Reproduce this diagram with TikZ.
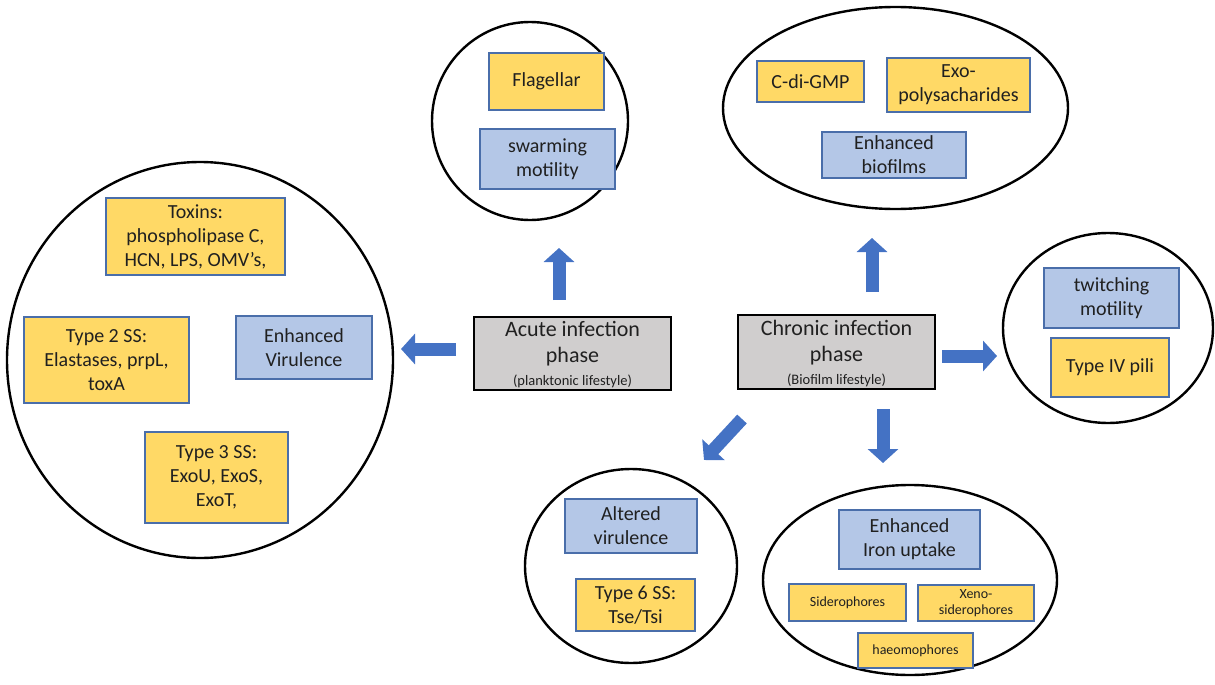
\documentclass[tikz,border=0pt]{standalone}
\usepackage{fontspec}
\setmainfont{Carlito}
\usetikzlibrary{shapes.geometric,arrows.meta}
\definecolor{yfill}{HTML}{FFD966}
\definecolor{bfill}{HTML}{B4C7E7}
\definecolor{bdraw}{HTML}{4A6EAA}
\definecolor{gfill}{HTML}{D0CECE}
\definecolor{arrblue}{HTML}{4472C4}
\definecolor{arrdark}{HTML}{3A62A8}
\definecolor{txt}{HTML}{202020}
\begin{document}
\begin{tikzpicture}[x=1pt,y=-1pt,
  oval/.style={ellipse,draw=black,line width=2.4pt,inner sep=0pt},
  ybox/.style={rectangle,draw=bdraw,fill=yfill,line width=1.3pt,inner sep=0pt,align=center,text=txt,font=\fontsize{20}{24}\selectfont},
  bbox/.style={rectangle,draw=bdraw,fill=bfill,line width=1.3pt,inner sep=0pt,align=center,text=txt,font=\fontsize{20}{24}\selectfont},
  sbox/.style={ybox,font=\fontsize{14}{16}\selectfont},
  phasebox/.style={rectangle,draw=black,fill=gfill,line width=2.6pt,inner sep=0pt,align=center,text=txt,font=\fontsize{22}{26}\selectfont,text depth=0pt},
  bigarrow/.style={line width=13pt,arrblue,-{Triangle[width=30pt,length=14pt]}}
]
\useasboundingbox (0,0) rectangle (1215,685);
% ovals
\node[oval,minimum width=386,minimum height=396] (e1) at (200,360) {};
\node[oval,minimum width=196,minimum height=198] (e2) at (530,121) {};
\node[oval,minimum width=345,minimum height=202] (e3) at (895.5,108) {};
\node[oval,minimum width=210,minimum height=190] (e4) at (1108,328) {};
\node[oval,minimum width=212,minimum height=194] (e5) at (631,566) {};
\node[oval,minimum width=294,minimum height=190] (e6) at (910,580) {};
% left oval
\node[ybox,minimum width=179,minimum height=77] (toxins) at (195.5,236.5) {Toxins:\\phospholipase C,\\HCN, LPS, OMV’s,};
\node[ybox,minimum width=165,minimum height=86] (t2ss) at (106.5,360) {Type 2 SS:\\Elastases, prpL,\\toxA};
\node[bbox,minimum width=136,minimum height=63] (envir) at (304,347.5) {Enhanced\\Virulence};
\node[ybox,minimum width=143,minimum height=91] (t3ss) at (216.5,477.5) {Type 3 SS:\\ExoU, ExoS,\\ExoT,};
% flagellar oval
\node[ybox,minimum width=115,minimum height=57] (flag) at (546.5,81.5) {Flagellar};
\node[bbox,minimum width=135,minimum height=60] (swarm) at (547.5,159) {swarming\\motility};
% top right oval
\node[ybox,minimum width=107,minimum height=41] (cdi) at (810.5,81.5) {C-di-GMP};
\node[ybox,minimum width=143,minimum height=54] (exo) at (958.5,85) {Exo-\\polysacharides};
\node[bbox,minimum width=144,minimum height=46] (biof) at (894,155) {Enhanced\\biofilms};
% phases
\node[phasebox,minimum width=197,minimum height=73] (acute) at (572.5,353.5) {Acute infection\\phase\\[-3pt]{\fontsize{14.5}{16}\selectfont(planktonic lifestyle)}};
\node[phasebox,minimum width=197,minimum height=74] (chronic) at (836.5,352) {Chronic infection\\phase\\[-3pt]{\fontsize{14.5}{16}\selectfont(Biofilm lifestyle)}};
% right oval
\node[bbox,minimum width=135,minimum height=60] (twitch) at (1111.5,298) {twitching\\motility};
\node[ybox,minimum width=118,minimum height=59] (t4p) at (1110,367.5) {Type IV pili};
% bottom middle oval
\node[bbox,minimum width=132,minimum height=54] (altered) at (631,526) {Altered\\virulence};
\node[ybox,minimum width=119,minimum height=52] (t6ss) at (635.5,605) {Type 6 SS:\\Tse/Tsi};
% bottom right oval
\node[bbox,minimum width=141,minimum height=59] (iron) at (909.5,539.5) {Enhanced\\Iron uptake};
\node[sbox,minimum width=117,minimum height=37] (sidero) at (847.5,602.5) {Siderophores};
\node[sbox,minimum width=116,minimum height=36] (xeno) at (976,603) {Xeno-\\siderophores};
\node[sbox,minimum width=115,minimum height=35] (haeo) at (915.5,650.5) {haeomophores};
% arrow end points
\coordinate (aLs) at (456,349); \coordinate (aLe) at (401,349);
\coordinate (aUs) at (559,300); \coordinate (aUe) at (559,248);
\coordinate (bUs) at (872,292); \coordinate (bUe) at (872,238);
\coordinate (bRs) at (942,356); \coordinate (bRe) at (997,356);
\coordinate (bDs) at (742,419); \coordinate (bDe) at (704,460);
\coordinate (bVs) at (883,409); \coordinate (bVe) at (883,463);
\draw[bigarrow] (aLs) -- (aLe);
\draw[bigarrow] (aUs) -- (aUe);
\draw[bigarrow] (bUs) -- (bUe);
\draw[bigarrow] (bRs) -- (bRe);
\draw[bigarrow] (bDs) -- (bDe);
\draw[bigarrow] (bVs) -- (bVe);
\end{tikzpicture}
\end{document}
